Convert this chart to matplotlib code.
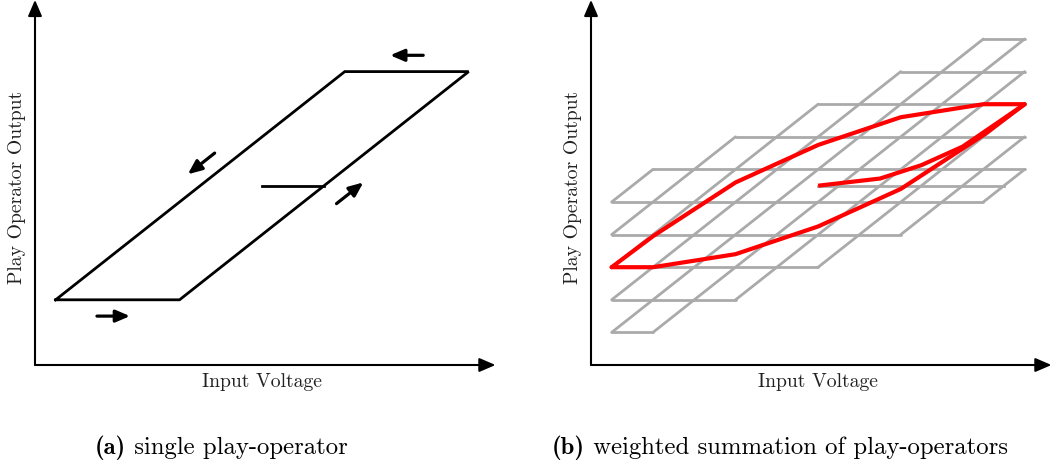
import matplotlib
matplotlib.use("Agg")
import matplotlib.pyplot as plt

# single play-operator loop (input, output)
op_x = [0.5, 3.5, 10.5, 7.5, 0.5]
op_y = [2.0, 2.0, 9.0, 9.0, 2.0]
op_init_x = [5.5, 7.0]
op_init_y = [5.5, 5.5]
# direction arrows along the loop: start, end
dir_start = [(1.5, 1.5), (9.4, 9.5), (4.35, 6.5), (7.3, 4.95)]
dir_end = [(2.3, 1.5), (8.6, 9.5), (3.7, 5.85), (7.95, 5.6)]

# grid of shifted operators: horizontal rows and slanted edges
row_y = [1, 2, 3, 4, 5, 6, 7, 8, 9, 10]
row_x0 = [0.5, 0.5, 0.5, 0.5, 0.5, 1.5, 3.5, 5.5, 7.5, 9.5]
row_x1 = [1.5, 3.5, 5.5, 7.5, 9.5, 10.5, 10.5, 10.5, 10.5, 10.5]
init_row = (5.5, 5.5, 10.0)  # y, x0, x1
diag_x0 = [0.5, 0.5, 0.5, 0.5, 0.5, 1.5, 3.5, 5.5, 7.5, 9.5]
diag_y0 = [5, 4, 3, 2, 1, 1, 2, 3, 4, 5]
diag_len = [1, 3, 5, 7, 9, 9, 7, 5, 3, 1]

# weighted sum of the operators
sum_up_x = [0.5, 1.5, 3.5, 5.5, 7.5, 9.5, 10.5]
sum_up_y = [3.0, 3.0, 3.4, 4.25, 5.4, 7.05, 8.0]
sum_down_x = [10.5, 9.5, 7.5, 5.5, 3.5, 1.5, 0.5]
sum_down_y = [8.0, 8.0, 7.6, 6.75, 5.6, 3.95, 3.0]
sum_init_x = [5.5, 7.0, 8.0, 9.0, 10.5]
sum_init_y = [5.5, 5.72, 6.13, 6.7, 8.0]

RM = "cmr10"
BF = "cmb10"

fig = plt.figure(figsize=(10.52, 4.68), dpi=100)
W, H = 1052., 468.
sx, sy = 41.3, 32.6   # pixels per unit
xmax, ymax = 11.15, 11.2


def make_axes(x0px):
    ax = fig.add_axes([x0px / W, 103 / H, xmax * sx / W, ymax * sy / H])
    ax.set_xlim(0, xmax)
    ax.set_ylim(0, ymax)
    ax.axis("off")
    ap = dict(arrowstyle="-|>,head_length=0.65,head_width=0.28", color="black",
              lw=1.5, shrinkA=0, shrinkB=0, mutation_scale=15)
    ax.annotate("", xy=(xmax, 0), xytext=(0, 0), arrowprops=ap, annotation_clip=False)
    ax.annotate("", xy=(0, ymax), xytext=(0, 0), arrowprops=ap, annotation_clip=False)
    ax.text(5.5, -0.52, "Input Voltage", fontfamily=RM, fontsize=14.2,
            ha="center", va="center", color="#222222")
    ax.text(-0.44, 5.45, "Play Operator Output", fontfamily=RM, fontsize=14.2,
            ha="center", va="center", rotation=90, color="#222222")
    return ax


# (a) single play-operator
ax1 = make_axes(35)
ax1.plot(op_x, op_y, color="black", lw=2.0, solid_joinstyle="miter")
ax1.plot(op_init_x, op_init_y, color="black", lw=2.0)
for s, e in zip(dir_start, dir_end):
    ax1.annotate("", xy=e, xytext=s,
                 arrowprops=dict(arrowstyle="-|>,head_length=0.7,head_width=0.3",
                                 color="black", lw=2.3, shrinkA=0, shrinkB=0,
                                 mutation_scale=12))

# (b) weighted summation
ax2 = make_axes(591)
grey = "#aaaaaa"
for y, a, b in zip(row_y, row_x0, row_x1):
    ax2.plot([a, b], [y, y], color=grey, lw=2.0, solid_capstyle="round")
ax2.plot([init_row[1], init_row[2]], [init_row[0], init_row[0]], color=grey, lw=2.0)
for x0, y0, n in zip(diag_x0, diag_y0, diag_len):
    ax2.plot([x0, x0 + n], [y0, y0 + n], color=grey, lw=2.0, solid_capstyle="round")

red_kw = dict(color="#ff0000", lw=3.0, solid_joinstyle="round", solid_capstyle="round")
ax2.plot(sum_up_x, sum_up_y, **red_kw)
ax2.plot(sum_down_x, sum_down_y, **red_kw)
ax2.plot(sum_init_x, sum_init_y, color="#ff0000", lw=3.0,
         solid_joinstyle="round", solid_capstyle="butt")

# sub-captions: bold tag followed by plain text
r = fig.canvas.get_renderer()
for x0, tag, txt in [(95, "(a)", " single play-operator"),
                     (552, "(b)", " weighted summation of play-operators")]:
    t = fig.text(x0 / W, 20 / H, tag, fontfamily=BF, fontsize=17.8, va="center")
    bb = t.get_window_extent(renderer=r)
    fig.text(bb.x1 / W, 20 / H, txt, fontfamily=RM, fontsize=17.8, va="center")

fig.savefig("out.png", dpi=100)
